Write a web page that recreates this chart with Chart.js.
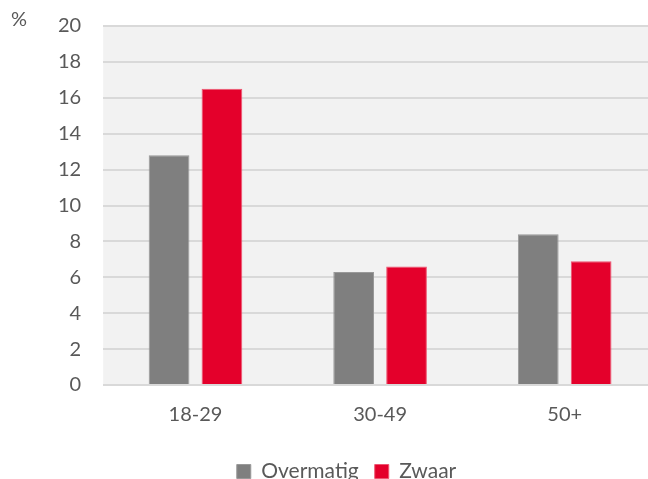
<!DOCTYPE html>
<html>
<head>
<meta charset="utf-8">
<script src="https://cdn.jsdelivr.net/npm/chart.js@4/dist/chart.umd.min.js"></script>
<style>
  html, body { margin: 0; padding: 0; background: #fff; overflow: hidden; }
</style>
</head>
<body>
<canvas id="chart" width="660" height="492"></canvas>
<script>
const categories = ["18-29", "30-49", "50+"];
const overmatig = [12.8, 6.3, 8.4];
const zwaar = [16.5, 6.6, 6.9];
const yTicks = [0, 2, 4, 6, 8, 10, 12, 14, 16, 18, 20];

const textColor = "#595959";

const plotBackground = {
  id: "plotBackground",
  beforeDraw(chart) {
    const { ctx, chartArea } = chart;
    ctx.save();
    ctx.fillStyle = "#f2f2f2";
    ctx.fillRect(chartArea.left, chartArea.top, chartArea.right - chartArea.left, chartArea.bottom - chartArea.top);
    ctx.restore();
  },
  afterDraw(chart) {
    const ctx = chart.ctx;
    ctx.save();
    ctx.fillStyle = textColor;
    ctx.font = "20px Lato";
    ctx.textBaseline = "middle";
    ctx.fillText("%", 11, 20);
    ctx.restore();
  }
};

new Chart("chart", {
  type: "bar",
  data: {
    labels: categories,
    datasets: [
      {
        label: "Overmatig",
        data: overmatig,
        backgroundColor: "#7f7f7f",
        borderColor: "#999999",
        borderWidth: 1,
      },
      {
        label: "Zwaar",
        data: zwaar,
        backgroundColor: "#e4002b",
        borderColor: "#ee5571",
        borderWidth: 1,
      },
    ],
  },
  options: {
    responsive: false,
    animation: false,
    categoryPercentage: 0.573,
    barPercentage: 0.77,
    layout: {
      padding: { left: 36, right: 3, top: 26, bottom: 0 },
    },
    scales: {
      x: {
        grid: { display: false, drawTicks: false },
        border: { display: false },
        ticks: {
          color: textColor,
          font: { family: "Lato", size: 20 },
          padding: 18,
        },
      },
      y: {
        min: 0,
        max: 20,
        afterBuildTicks: (axis) => {
          axis.ticks = yTicks.map(v => ({ value: v }));
        },
        afterFit: (axis) => {
          axis.paddingTop = 0;
          axis.paddingBottom = 0;
        },
        grid: { color: "#d9d9d9", lineWidth: 2, drawTicks: false },
        border: { display: false },
        ticks: {
          color: textColor,
          font: { family: "Lato", size: 20 },
          padding: 22,
        },
      },
    },
    plugins: {
      legend: {
        position: "bottom",
        labels: {
          color: textColor,
          font: { family: "Lato", size: 21 },
          boxWidth: 14,
          boxHeight: 14,
          padding: 16,
        },
      },
      tooltip: { enabled: false },
    },
  },
  plugins: [plotBackground],
});
</script>
</body>
</html>
